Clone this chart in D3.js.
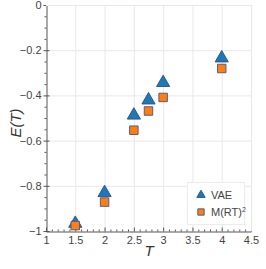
<!DOCTYPE html>
<html>
<head>
<meta charset="utf-8">
<script src="https://cdn.jsdelivr.net/npm/d3@7"></script>
<style>
  body { margin: 0; background: #fff; }
  svg { font-family: "Liberation Sans", Arial, sans-serif; }
</style>
</head>
<body>
<svg id="chart" width="266" height="269"></svg>
<script>
// temperatures and energies
const temps = [1.5, 2, 2.5, 2.75, 3, 4];
const vaeE = [-0.967, -0.831, -0.488, -0.421, -0.344, -0.235];
const mrtE = [-0.976, -0.872, -0.554, -0.469, -0.409, -0.281];
const xTicks = [1, 1.5, 2, 2.5, 3, 3.5, 4, 4.5];
const yTicks = [0, -0.2, -0.4, -0.6, -0.8, -1];

const svg = d3.select('#chart');
const pLeft = 46, pTop = 5, pRight = 251, pBottom = 231;

const x = d3.scaleLinear().domain([1, 4.5]).range([pLeft, pRight]);
const y = d3.scaleLinear().domain([-1, 0]).range([pBottom, pTop]);

// grid
const grid = svg.append('g').attr('stroke', '#e8e8e8').attr('stroke-width', 1);
grid.selectAll('.gx').data(xTicks.slice(1)).join('line')
    .attr('x1', d => x(d) + 0.5).attr('x2', d => x(d) + 0.5)
    .attr('y1', pTop).attr('y2', pBottom);
grid.selectAll('.gy').data(yTicks.slice(0, -1)).join('line')
    .attr('y1', d => y(d) + 0.5).attr('y2', d => y(d) + 0.5)
    .attr('x1', pLeft).attr('x2', pRight);

// x axis
const xAxis = d3.axisBottom(x).tickValues(xTicks).tickFormat(d3.format('')).tickSize(0).tickPadding(5);
const gx = svg.append('g').attr('transform', `translate(0,${pBottom + 0.5})`).call(xAxis);
gx.append('g').selectAll('line').data(d3.range(10, 46).map(d => d / 10)).join('line')
    .attr('x1', d => x(d) + 0.5).attr('x2', d => x(d) + 0.5)
    .attr('y1', 0).attr('y2', d => Math.abs(d * 2 - Math.round(d * 2)) < 1e-6 ? -4 : -2)
    .attr('stroke', '#555');

// y axis
const yAxis = d3.axisLeft(y).tickValues(yTicks).tickFormat(d => d === 0 ? '0' : d3.format('')(d)).tickSize(0).tickPadding(5);
const gy = svg.append('g').attr('transform', `translate(${pLeft + 0.5},0)`).call(yAxis);
gy.append('g').selectAll('line').data(d3.range(0, 21).map(d => -d / 20)).join('line')
    .attr('y1', d => y(d) + 0.5).attr('y2', d => y(d) + 0.5)
    .attr('x1', d => Math.abs(d * 5 - Math.round(d * 5)) < 1e-6 ? -3 : -2)
    .attr('x2', d => Math.abs(d * 5 - Math.round(d * 5)) < 1e-6 ? 3 : 0)
    .attr('stroke', '#555');

[gx, gy].forEach(g => {
    g.select('.domain').attr('stroke', '#555');
    g.selectAll('.tick text').attr('fill', '#444').attr('font-size', 11);
});

// border top/right
svg.append('path')
    .attr('d', `M${pLeft},${pTop + 0.5}H${pRight + 0.5}V${pBottom}`)
    .attr('fill', 'none').attr('stroke', '#e8e8e8');

// axis labels
svg.append('text').attr('x', 149).attr('y', 256).attr('text-anchor', 'middle')
    .attr('font-size', 15).attr('font-style', 'italic').attr('fill', '#333').text('T');
svg.append('text').attr('transform', 'translate(21,123) rotate(-90)').attr('text-anchor', 'middle')
    .attr('font-size', 15).attr('font-style', 'italic').attr('fill', '#333').text('E(T)');

const tri = d3.symbol().type(d3.symbolTriangle).size(75);
const sq = d3.symbol().type(d3.symbolSquare).size(72);

svg.append('g').selectAll('path').data(temps).join('path')
    .attr('d', tri)
    .attr('transform', (d, i) => `translate(${x(d)},${y(vaeE[i])})`)
    .attr('fill', '#1f77b4').attr('stroke', '#2a5a95').attr('stroke-width', 1);

svg.append('g').selectAll('path').data(temps).join('path')
    .attr('d', sq)
    .attr('transform', (d, i) => `translate(${x(d)},${y(mrtE[i])})`)
    .attr('fill', '#ff7f0e').attr('stroke', '#5a5a8a').attr('stroke-width', 1);

// legend
const lg = svg.append('g');
lg.append('rect').attr('x', 187.5).attr('y', 182.5).attr('width', 57).attr('height', 42)
    .attr('fill', '#fff').attr('stroke', '#ececec');
lg.append('path').attr('d', d3.symbol().type(d3.symbolTriangle).size(30))
    .attr('transform', 'translate(201,195)').attr('fill', '#1f77b4').attr('stroke', '#2a5a95');
lg.append('path').attr('d', d3.symbol().type(d3.symbolSquare).size(40))
    .attr('transform', 'translate(201,212)').attr('fill', '#ff7f0e').attr('stroke', '#5a5a8a');
lg.append('text').attr('x', 211).attr('y', 199).attr('font-size', 11).attr('fill', '#444').text('VAE');
const t2 = lg.append('text').attr('x', 211).attr('y', 216).attr('font-size', 11).attr('fill', '#444').text('M(RT)');
t2.append('tspan').attr('font-size', 7).attr('dy', -4).text('2');
</script>
</body>
</html>
